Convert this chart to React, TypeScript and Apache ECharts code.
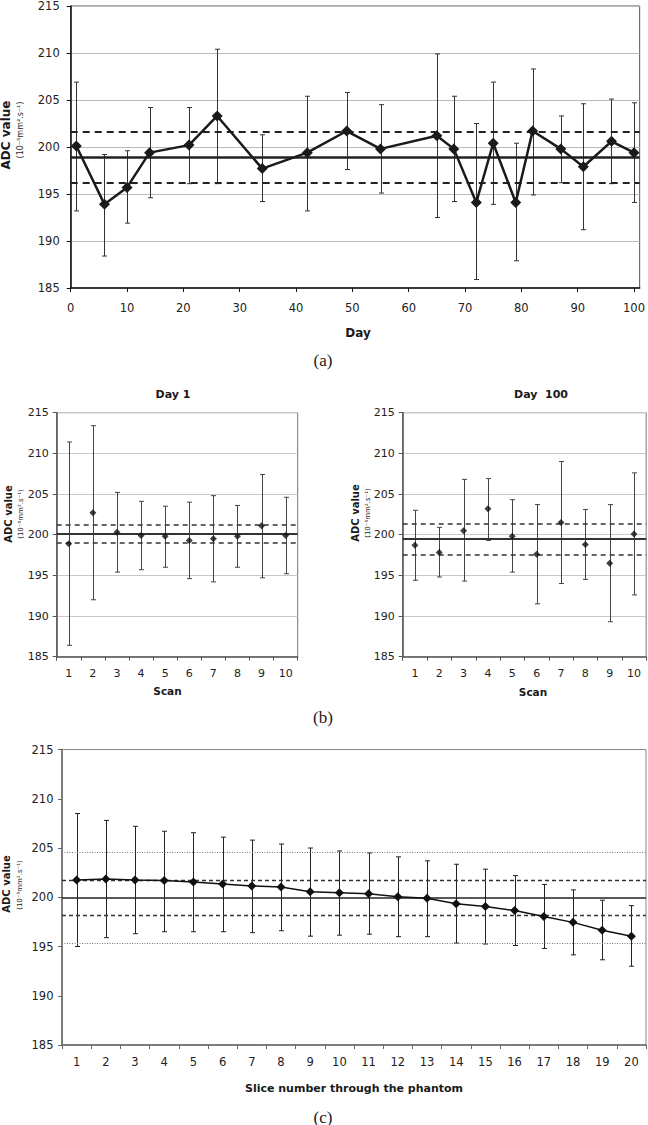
import React, { useEffect, useRef } from 'react';
import * as echarts from 'echarts';

// Panel (a): ADC over 100 days
const daysA = [1, 6, 10, 14, 21, 26, 34, 42, 49, 55, 65, 68, 72, 75, 79, 82, 87, 91, 96, 100];
const adcA = [200.1, 193.9, 195.7, 199.4, 200.2, 203.3, 197.7, 199.4, 201.7, 199.8, 201.2, 199.8, 194.1, 200.4, 194.1, 201.7, 199.8, 197.9, 200.6, 199.4];
const lowA = [193.2, 188.4, 191.9, 194.6, 196.1, 196.1, 194.2, 193.2, 197.6, 195.1, 192.5, 194.2, 185.9, 193.9, 187.9, 194.9, 196.2, 191.2, 196.1, 194.1];
const highA = [206.9, 199.2, 199.6, 204.2, 204.2, 210.4, 201.3, 205.4, 205.8, 204.5, 209.9, 205.4, 202.5, 206.9, 200.4, 208.3, 203.3, 204.6, 205.1, 204.7];
const refsA = [198.9, 201.6, 196.15];

// Panel (b): scans on day 1 and day 100
const scanCats = ['1', '2', '3', '4', '5', '6', '7', '8', '9', '10'];
const adcB1 = [198.9, 202.7, 200.3, 199.9, 199.8, 199.3, 199.5, 199.8, 201.1, 199.9];
const lowB1 = [186.4, 192.0, 195.4, 195.7, 196.0, 194.6, 194.2, 196.0, 194.7, 195.2];
const highB1 = [211.4, 213.4, 205.2, 204.1, 203.5, 204.0, 204.8, 203.6, 207.4, 204.6];
const refsB1 = [200.1, 201.2, 199.0];
const adcB2 = [198.7, 197.8, 200.5, 203.2, 199.8, 197.6, 201.5, 198.8, 196.5, 200.1];
const lowB2 = [194.4, 194.8, 194.3, 199.3, 195.4, 191.5, 194.0, 194.5, 189.3, 192.6];
const highB2 = [203.0, 200.9, 206.8, 206.9, 204.3, 203.7, 209.0, 203.1, 203.7, 207.6];
const refsB2 = [199.45, 201.4, 197.5];

// Panel (c): slices through the phantom
const sliceCats = ['1', '2', '3', '4', '5', '6', '7', '8', '9', '10', '11', '12', '13', '14', '15', '16', '17', '18', '19', '20'];
const adcC = [201.75, 201.85, 201.75, 201.7, 201.55, 201.35, 201.15, 201.05, 200.55, 200.45, 200.35, 200.05, 199.9, 199.35, 199.05, 198.65, 198.05, 197.45, 196.65, 196.05];
const lowC = [195.0, 195.9, 196.3, 196.5, 196.5, 196.5, 196.4, 196.6, 196.05, 196.15, 196.25, 196.0, 196.0, 195.35, 195.25, 195.1, 194.8, 194.15, 193.65, 193.0];
const highC = [208.5, 207.8, 207.2, 206.7, 206.55, 206.1, 205.8, 205.4, 205.0, 204.7, 204.5, 204.1, 203.7, 203.35, 202.85, 202.2, 201.3, 200.75, 199.7, 199.15];
const refsC = [199.9, 201.7, 198.15, 204.6, 195.3];

const yMin = 185;
const yMax = 215;
const yStep = 5;

const NUM_FONT = 'DejaVu Sans';
const BOLD_FONT = 'DejaVu Sans';
const SERIF = 'Liberation Serif';

function errorBars(xAxisIndex: number, yAxisIndex: number, xs: number[], lo: number[], hi: number[], color: string, cap: number) {
  return {
    type: 'custom',
    xAxisIndex,
    yAxisIndex,
    silent: true,
    z: 3,
    data: xs.map((x, i) => [x, lo[i], hi[i]]),
    encode: { x: 0, y: [1, 2] },
    renderItem: (params: any, api: any) => {
      const x = api.value(0);
      const pLo = api.coord([x, api.value(1)]);
      const pHi = api.coord([x, api.value(2)]);
      const px = Math.round(pLo[0]) + 0.5;
      const st = { stroke: color, lineWidth: 1 };
      return {
        type: 'group',
        children: [
          { type: 'line', shape: { x1: px, y1: pLo[1], x2: px, y2: pHi[1] }, style: st },
          { type: 'line', shape: { x1: px - cap, y1: pLo[1], x2: px + cap, y2: pLo[1] }, style: st },
          { type: 'line', shape: { x1: px - cap, y1: pHi[1], x2: px + cap, y2: pHi[1] }, style: st },
        ],
      };
    },
  };
}

function yAxisDef(gridIndex: number, fontSize: number, margin: number, showSplit: boolean, axisColor: string, splitColor: string) {
  return {
    type: 'value',
    gridIndex,
    min: yMin,
    max: yMax,
    interval: yStep,
    axisLine: { show: true, lineStyle: { color: axisColor, width: 1.5 } },
    axisTick: { show: true, length: 4, lineStyle: { color: axisColor } },
    axisLabel: { fontSize, fontFamily: NUM_FONT, color: '#222', margin },
    splitLine: { show: showSplit, lineStyle: { color: splitColor, width: 1 } },
  };
}

function catAxis(gridIndex: number, cats: string[], fontSize: number, margin: number, axisColor: string) {
  return {
    type: 'category',
    gridIndex,
    data: cats,
    boundaryGap: true,
    axisLine: { show: true, lineStyle: { color: axisColor, width: 1.5 } },
    axisTick: { show: true, length: 4, alignWithLabel: false, lineStyle: { color: axisColor } },
    axisLabel: { fontSize, fontFamily: NUM_FONT, color: '#222', margin, interval: 0 },
    splitLine: { show: false },
  };
}

function txt(x: number, y: number, text: string, fontSize: number, opts: any = {}) {
  return {
    type: 'text',
    x,
    y,
    rotation: opts.rotation || 0,
    silent: true,
    style: {
      text,
      fontSize,
      fontFamily: opts.fontFamily || BOLD_FONT,
      fontWeight: opts.fontWeight || 'normal',
      fill: '#1a1a1a',
      align: 'center',
      verticalAlign: 'middle',
    },
  };
}

const SUB = '(10\u207B\u2075mm\u00B2.s\u207B\u00B9)';

export default function App() {
  const ref = useRef<HTMLDivElement>(null);

  useEffect(() => {
    if (!ref.current) return;
    const chart = echarts.init(ref.current, undefined, { renderer: 'svg' });
    const scanIdx = scanCats.map((_, i) => i);
    const sliceIdx = sliceCats.map((_, i) => i);

    const option: any = {
      animation: false,
      backgroundColor: '#ffffff',
      grid: [
        { left: 70.7, top: 4, width: 571.7, height: 284, show: true, borderColor: '#555', borderWidth: 1, backgroundColor: 'transparent' },
        { left: 56.7, top: 412.7, width: 241, height: 244, show: true, borderColor: '#777', borderWidth: 1, backgroundColor: 'transparent' },
        { left: 402.7, top: 412.7, width: 243.5, height: 244, show: true, borderColor: '#777', borderWidth: 1, backgroundColor: 'transparent' },
        { left: 62, top: 749.5, width: 584, height: 295.5, show: true, borderColor: '#888', borderWidth: 1, backgroundColor: 'transparent' },
      ],
      xAxis: [
        {
          type: 'value',
          gridIndex: 0,
          min: 0,
          max: 101,
          interval: 10,
          axisLine: { show: true, lineStyle: { color: '#111', width: 1.5 } },
          axisTick: { show: true, length: 4, lineStyle: { color: '#111' } },
          axisLabel: {
            fontSize: 11.5,
            fontFamily: NUM_FONT,
            color: '#222',
            margin: 14,
            showMaxLabel: false,
            formatter: (v: number) => (v % 10 === 0 ? String(v) : ''),
          },
          splitLine: { show: false },
        },
        catAxis(1, scanCats, 11, 11, '#555'),
        catAxis(2, scanCats, 11, 11, '#555'),
        catAxis(3, sliceCats, 11.5, 11, '#666'),
      ],
      yAxis: [
        yAxisDef(0, 11.5, 11, true, '#111', '#bbb'),
        yAxisDef(1, 11, 8, true, '#555', '#c8c8c8'),
        yAxisDef(2, 11, 8, true, '#555', '#c8c8c8'),
        yAxisDef(3, 11.5, 8.5, false, '#666', '#ccc'),
      ],
      series: [
        errorBars(0, 0, daysA, lowA, highA, '#333', 2.5),
        {
          type: 'line',
          xAxisIndex: 0,
          yAxisIndex: 0,
          z: 5,
          data: daysA.map((d, i) => [d, adcA[i]]),
          symbol: 'diamond',
          symbolSize: 11,
          lineStyle: { color: '#1a1a1a', width: 2.5 },
          itemStyle: { color: '#1a1a1a' },
          markLine: {
            silent: true,
            symbol: 'none',
            label: { show: false },
            z: 4,
            data: [
              { yAxis: refsA[0], lineStyle: { type: 'solid', width: 2.5, color: '#222' } },
              { yAxis: refsA[1], lineStyle: { type: [7, 5], width: 2, color: '#222' } },
              { yAxis: refsA[2], lineStyle: { type: [7, 5], width: 2, color: '#222' } },
            ],
          },
        },
        errorBars(1, 1, scanIdx, lowB1, highB1, '#444', 2.5),
        {
          type: 'scatter',
          xAxisIndex: 1,
          yAxisIndex: 1,
          z: 5,
          data: adcB1,
          symbol: 'diamond',
          symbolSize: 7,
          itemStyle: { color: '#111' },
          markLine: {
            silent: true,
            symbol: 'none',
            label: { show: false },
            z: 4,
            data: [
              { yAxis: refsB1[0], lineStyle: { type: 'solid', width: 2, color: '#333' } },
              { yAxis: refsB1[1], lineStyle: { type: [5, 4], width: 1.5, color: '#333' } },
              { yAxis: refsB1[2], lineStyle: { type: [5, 4], width: 1.5, color: '#333' } },
            ],
          },
        },
        errorBars(2, 2, scanIdx, lowB2, highB2, '#444', 2.5),
        {
          type: 'scatter',
          xAxisIndex: 2,
          yAxisIndex: 2,
          z: 5,
          data: adcB2,
          symbol: 'diamond',
          symbolSize: 7,
          itemStyle: { color: '#111' },
          markLine: {
            silent: true,
            symbol: 'none',
            label: { show: false },
            z: 4,
            data: [
              { yAxis: refsB2[0], lineStyle: { type: 'solid', width: 2, color: '#333' } },
              { yAxis: refsB2[1], lineStyle: { type: [5, 4], width: 1.5, color: '#333' } },
              { yAxis: refsB2[2], lineStyle: { type: [5, 4], width: 1.5, color: '#333' } },
            ],
          },
        },
        errorBars(3, 3, sliceIdx, lowC, highC, '#222', 2.5),
        {
          type: 'line',
          xAxisIndex: 3,
          yAxisIndex: 3,
          z: 5,
          data: adcC,
          symbol: 'diamond',
          symbolSize: 9,
          lineStyle: { color: '#111', width: 1.5 },
          itemStyle: { color: '#111' },
          markLine: {
            silent: true,
            symbol: 'none',
            label: { show: false },
            z: 4,
            data: [
              { yAxis: refsC[0], lineStyle: { type: 'solid', width: 1.5, color: '#222' } },
              { yAxis: refsC[1], lineStyle: { type: [4, 3], width: 1.3, color: '#333' } },
              { yAxis: refsC[2], lineStyle: { type: [4, 3], width: 1.3, color: '#333' } },
              { yAxis: refsC[3], lineStyle: { type: [1, 1.5], width: 1, color: '#777' } },
              { yAxis: refsC[4], lineStyle: { type: [1, 1.5], width: 1, color: '#777' } },
            ],
          },
        },
      ],
      graphic: [
        txt(6, 135, 'ADC value', 12, { rotation: Math.PI / 2, fontWeight: 'bold' }),
        txt(20, 130, SUB, 8, { rotation: Math.PI / 2, fontFamily: NUM_FONT }),
        txt(358, 333, 'Day', 12, { fontWeight: 'bold' }),
        txt(323, 360, '(a)', 17, { fontFamily: SERIF }),

        txt(173, 394, 'Day 1', 11, { fontWeight: 'bold' }),
        txt(541, 394, 'Day  100', 11, { fontWeight: 'bold' }),
        txt(8, 514, 'ADC value', 10, { rotation: Math.PI / 2, fontWeight: 'bold' }),
        txt(20.5, 514, SUB, 7, { rotation: Math.PI / 2, fontFamily: NUM_FONT }),
        txt(355.7, 513, 'ADC value', 10, { rotation: Math.PI / 2, fontWeight: 'bold' }),
        txt(368.3, 513, SUB, 7, { rotation: Math.PI / 2, fontFamily: NUM_FONT }),
        txt(167.5, 691, 'Scan', 10.5, { fontWeight: 'bold' }),
        txt(533, 691.5, 'Scan', 10.5, { fontWeight: 'bold' }),
        txt(323, 717, '(b)', 17, { fontFamily: SERIF }),

        txt(6, 884, 'ADC value', 10, { rotation: Math.PI / 2, fontWeight: 'bold' }),
        txt(20, 885, SUB, 7, { rotation: Math.PI / 2, fontFamily: NUM_FONT }),
        txt(354, 1088, 'Slice number through the phantom', 11, { fontWeight: 'bold' }),
        txt(323, 1117, '(c)', 17, { fontFamily: SERIF }),
      ],
    };

    chart.setOption(option);
    return () => {
      chart.dispose();
    };
  }, []);

  return (
    <div
      ref={ref}
      style={{ position: 'absolute', left: 0, top: 0, width: 648, height: 1125, background: '#fff' }}
    />
  );
}
